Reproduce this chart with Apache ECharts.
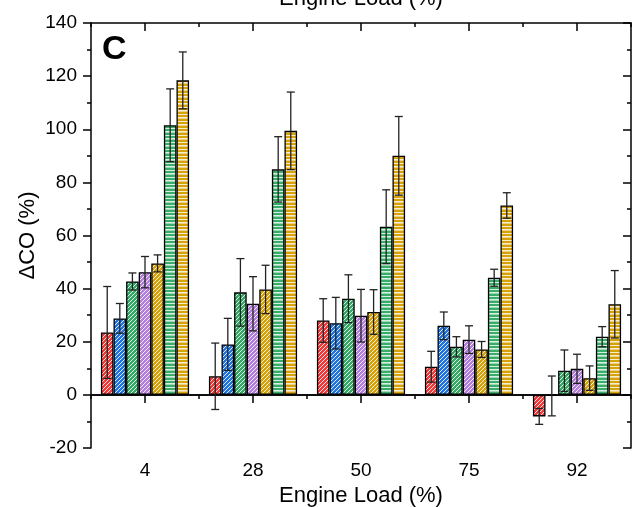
<!DOCTYPE html>
<html>
<head>
<meta charset="utf-8">
<script src="https://cdn.jsdelivr.net/npm/echarts@6/dist/echarts.min.js"></script>
<style>
html,body{margin:0;padding:0;background:#fff;}
#main{width:632px;height:507px;}
</style>
</head>
<body>
<div id="main"></div>
<script>
const categories = ['4', '28', '50', '75', '92'];

const redDiag    = [23.5, 7.0, 28.0, 10.6, -8.1];
const blueDiag   = [28.8, 19.0, 27.0, 26.0, -0.4];
const greenDiag  = [42.7, 38.6, 36.2, 18.1, 9.1];
const purpleDiag = [46.2, 34.3, 29.8, 20.8, 9.8];
const goldDiag   = [49.5, 39.7, 31.2, 17.1, 6.3];
const greenHoriz = [101.5, 84.9, 63.3, 44.1, 21.9];
const goldHoriz  = [118.4, 99.4, 90.0, 71.3, 34.1];

const redErr    = [17.3, 12.5, 8.2, 5.8, 3.0];
const blueErr   = [5.6, 9.8, 9.7, 5.2, 7.5];
const greenErr  = [3.2, 12.7, 9.0, 3.8, 7.8];
const purpleErr = [5.9, 10.2, 9.9, 5.2, 5.5];
const goldErr   = [3.2, 9.1, 8.4, 3.0, 4.6];
const greenHErr = [13.7, 12.3, 13.9, 3.2, 3.8];
const goldHErr  = [10.7, 14.6, 14.8, 4.8, 12.7];

const yTicks = [-20, 0, 20, 40, 60, 80, 100, 120, 140];

const seriesValues = [redDiag, blueDiag, greenDiag, purpleDiag, goldDiag, greenHoriz, goldHoriz];
const seriesErrors = [redErr, blueErr, greenErr, purpleErr, goldErr, greenHErr, goldHErr];
const seriesColors = ['#f03a3a', '#1f74e0', '#34a865', '#b27fdc', '#d6a20a', '#38ad6a', '#d6a20a'];
const seriesKinds = ['diag', 'diag', 'diag', 'diag', 'diag', 'horiz', 'horiz'];

function diagPattern(color) {
  const c = document.createElement('canvas');
  c.width = 4; c.height = 4;
  const g = c.getContext('2d');
  g.fillStyle = color; g.fillRect(0, 0, 4, 4);
  g.strokeStyle = 'rgba(255,255,255,0.85)';
  g.lineWidth = 1.0;
  g.beginPath();
  g.moveTo(-1, 5); g.lineTo(5, -1);
  g.moveTo(-1, 1); g.lineTo(1, -1);
  g.moveTo(3, 5); g.lineTo(5, 3);
  g.stroke();
  return { image: c, repeat: 'repeat' };
}
function horizPattern(color) {
  const c = document.createElement('canvas');
  c.width = 4; c.height = 7;
  const g = c.getContext('2d');
  g.fillStyle = color; g.fillRect(0, 0, 4, 7);
  g.fillStyle = 'rgba(255,255,255,0.8)';
  g.fillRect(0, 2, 4, 1);
  g.fillRect(0, 5, 4, 1);
  g.fillStyle = 'rgba(255,255,255,0.5)';
  g.fillRect(0, 6, 4, 1);
  return { image: c, repeat: 'repeat' };
}

const BAR_FRAC = 0.1166;
const FONT = "'Liberation Sans', Arial, sans-serif";

const barSeries = seriesValues.map((vals, i) => ({
  type: 'bar',
  name: 'Series ' + (i + 1),
  data: vals,
  barWidth: (BAR_FRAC * 100) + '%',
  barGap: '0%',
  itemStyle: {
    color: seriesKinds[i] === 'diag' ? diagPattern(seriesColors[i]) : horizPattern(seriesColors[i]),
    borderColor: '#000',
    borderWidth: 1.3
  },
  emphasis: { disabled: true },
  z: 2
}));

barSeries[0].markLine = {
  silent: true,
  symbol: ['none', 'none'],
  label: { show: false },
  lineStyle: { color: '#000', width: 1.5, type: 'solid' },
  data: [{ yAxis: 0 }],
  z: 5
};

const errData = [];
seriesValues.forEach((vals, s) => {
  vals.forEach((v, c) => {
    const e = seriesErrors[s][c];
    errData.push([c, s, v - e, v + e]);
  });
});

const errorSeries = {
  type: 'custom',
  data: errData,
  encode: { x: 0, y: [2, 3] },
  z: 10,
  silent: true,
  renderItem: function (params, api) {
    const cat = api.value(0), s = api.value(1), lo = api.value(2), hi = api.value(3);
    const band = api.size([1, 0])[0];
    const bw = band * BAR_FRAC;
    const cx = api.coord([cat, 0])[0] + (s - 3) * bw;
    const yl = api.coord([cat, lo])[1];
    const yh = api.coord([cat, hi])[1];
    const cap = 4;
    const st = { stroke: '#222', lineWidth: 1.3 };
    return {
      type: 'group',
      children: [
        { type: 'line', shape: { x1: cx, y1: yl, x2: cx, y2: yh }, style: st },
        { type: 'line', shape: { x1: cx - cap, y1: yh, x2: cx + cap, y2: yh }, style: st },
        { type: 'line', shape: { x1: cx - cap, y1: yl, x2: cx + cap, y2: yl }, style: st }
      ]
    };
  }
};

const axisLine = { show: true, lineStyle: { color: '#000', width: 1.5 } };

const option = {
  animation: false,
  backgroundColor: '#fff',
  textStyle: { fontFamily: FONT },
  grid: { left: 91, right: 1, top: 23, bottom: 59, containLabel: false, outerBoundsMode: 'none' },
  xAxis: [
    {
      type: 'category', data: categories, position: 'bottom',
      axisLine: axisLine,
      axisTick: { show: true, alignWithLabel: true, length: 8, lineStyle: { color: '#000', width: 1.5 } },
      axisLabel: { fontSize: 19, color: '#000', margin: 13, fontFamily: FONT },
      splitLine: { show: false },
      name: 'Engine Load (%)', nameLocation: 'middle', nameGap: 36,
      nameTextStyle: { fontSize: 22, color: '#000', fontFamily: FONT }
    },
    {
      type: 'category', data: categories, position: 'bottom',
      axisLine: { show: false },
      axisTick: { show: true, length: 4, lineStyle: { color: '#000', width: 1.5 } },
      axisLabel: { show: false }, splitLine: { show: false }
    },
    {
      type: 'category', data: categories, position: 'top',
      axisLine: axisLine,
      axisTick: { show: true, inside: true, alignWithLabel: true, length: 8, lineStyle: { color: '#000', width: 1.5 } },
      axisLabel: { show: false }, splitLine: { show: false },
      name: 'Engine Load (%)', nameLocation: 'middle', nameGap: 24,
      nameTextStyle: { fontSize: 22, color: '#000', verticalAlign: 'middle', fontFamily: FONT }
    },
    {
      type: 'category', data: categories, position: 'top',
      axisLine: { show: false },
      axisTick: { show: true, inside: true, length: 4, lineStyle: { color: '#000', width: 1.5 } },
      axisLabel: { show: false }, splitLine: { show: false }
    }
  ],
  yAxis: [
    {
      type: 'value', position: 'left',
      min: yTicks[0], max: yTicks[yTicks.length - 1], interval: yTicks[1] - yTicks[0],
      axisLine: axisLine,
      axisTick: { show: true, length: 8, lineStyle: { color: '#000', width: 1.5 } },
      minorTick: { show: true, splitNumber: 2, length: 4, lineStyle: { color: '#000', width: 1.5 } },
      axisLabel: { fontSize: 19, color: '#000', margin: 14, fontFamily: FONT },
      splitLine: { show: false },
      name: 'ΔCO (%)', nameLocation: 'middle', nameGap: 63, nameMoveOverlap: false,
      nameTextStyle: { fontSize: 22, color: '#000', verticalAlign: 'middle', fontFamily: FONT }
    },
    {
      type: 'value', position: 'right',
      min: yTicks[0], max: yTicks[yTicks.length - 1], interval: yTicks[1] - yTicks[0],
      axisLine: axisLine,
      axisTick: { show: true, inside: true, length: 8, lineStyle: { color: '#000', width: 1.5 } },
      minorTick: { show: true, splitNumber: 2, length: 4, lineStyle: { color: '#000', width: 1.5 } },
      axisLabel: { show: false },
      splitLine: { show: false }
    }
  ],
  graphic: [
    {
      type: 'text', x: 102, y: 50,
      style: { text: 'C', font: "bold 34px 'Liberation Sans', Arial, sans-serif", fill: '#000', verticalAlign: 'middle' },
      silent: true
    }
  ],
  series: barSeries.concat([errorSeries])
};

const chart = echarts.init(document.getElementById('main'), null, { renderer: 'canvas' });
chart.setOption(option);
</script>
</body>
</html>
